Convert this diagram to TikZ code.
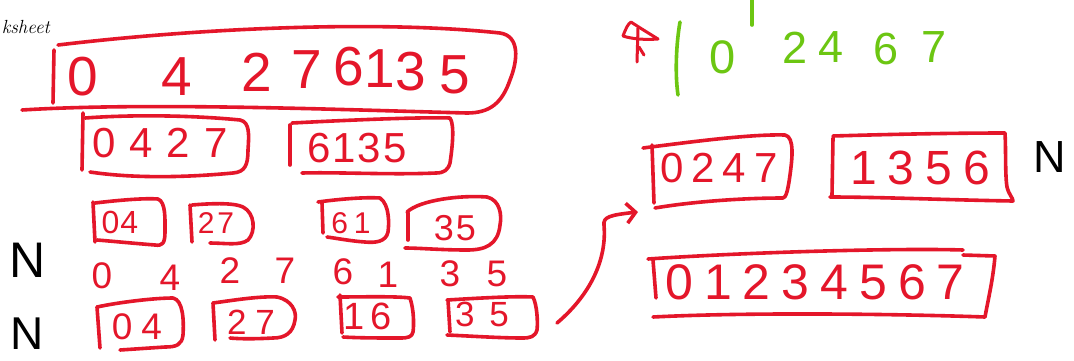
\documentclass[tikz,border=0pt]{standalone}
\usepackage{fontspec}
\newfontfamily\hand{Liberation Sans}
\usetikzlibrary{arrows.meta}
\definecolor{penred}{RGB}{228,22,42}
\definecolor{pengreen}{RGB}{108,198,18}
\begin{document}
\begin{tikzpicture}[x=1pt,y=-1pt,
  pen/.style={draw=penred, line width=3.6pt, line cap=round, line join=round},
  gpen/.style={draw=pengreen, line width=3.6pt, line cap=round, line join=round},
  dg/.style={inner sep=0pt, text=penred, font=\hand\fontsize{#1}{#1}\selectfont},
  dg/.default=40,
  gd/.style={inner sep=0pt, text=pengreen, font=\hand\fontsize{#1}{#1}\selectfont},
  nn/.style={inner sep=0pt, text=black, font=\hand\fontsize{#1}{#1}\selectfont}]
\fill[white] (0,0) rectangle (1074,360);
\useasboundingbox (0,0) rectangle (1074,360);

% cut-off title
\node[anchor=base east, inner sep=0pt, font=\itshape\fontsize{19}{19}\selectfont] (ws) at (50,33) {ksheet};

% ---------- top row ----------
\node[dg=55] (t0) at (83,77) {0};
\node[dg=55] (t1) at (177,77) {4};
\node[dg=55] (t2) at (257,72) {2};
\node[dg=55] (t3) at (307,70) {7};
\node[dg=55] (t4) at (349,67) {6};
\node[dg=55] (t5) at (380,69) {1};
\node[dg=55] (t6) at (411,72) {3};
\node[dg=55] (t7) at (455,75) {5};
\draw[pen] (54,50) -- (53,103);
\draw[pen] (58,45) .. controls (200,28) and (380,20) .. (500,33)
  .. controls (520,36) and (518,60) .. (510,80)
  .. controls (502,103) and (490,113) .. (467,113)
  .. controls (350,110) and (150,102) .. (22,110);

% ---------- second row ----------
\node[dg=42] (r2a) at (160,143) {0\kern14pt{}4\kern14pt{}2\kern14pt{}7};
\draw[pen] (83,113) -- (82,170);
\draw[pen] (85,118) .. controls (140,114) and (200,116) .. (240,120)
  .. controls (250,122) and (249,135) .. (248,150)
  .. controls (248,165) and (245,172) .. (233,173)
  .. controls (180,178) and (130,178) .. (90,172);
\node[dg=42] (r2b) at (357,148) {6\kern2pt{}1\kern2pt{}3\kern2pt{}5};
\draw[pen] (290,125) -- (290,165);
\draw[pen] (292,123) .. controls (350,120) and (420,117) .. (450,118)
  .. controls (455,125) and (452,150) .. (450,163)
  .. controls (448,170) and (444,173) .. (436,173)
  .. controls (390,175) and (340,172) .. (302,173);

% ---------- third row ----------
\node[dg=32] (r3a) at (120,222) {0\kern1pt{}4};
\draw[pen] (93,202) -- (95,242);
\draw[pen] (95,203) .. controls (120,200) and (145,198) .. (158,199)
  .. controls (166,202) and (165,220) .. (165,232)
  .. controls (165,244) and (162,246) .. (155,245)
  .. controls (130,243) and (110,241) .. (97,240);
\node[dg=30] (r3b) at (216,223) {2\kern3pt{}7};
\draw[pen] (190,205) -- (192,242);
\draw[pen] (192,205) .. controls (215,203) and (235,203) .. (243,207)
  .. controls (255,213) and (256,232) .. (248,240)
  .. controls (240,246) and (225,243) .. (210,243);
\node[dg=30] (r3c) at (351,223) {6\kern6pt{}1};
\draw[pen] (322,203) -- (323,233);
\draw[pen] (318,202) .. controls (340,199) and (365,197) .. (380,198)
  .. controls (390,205) and (389,225) .. (388,232)
  .. controls (386,242) and (375,243) .. (365,242)
  .. controls (350,241) and (335,238) .. (327,237);
\node[dg=36] (r3d) at (455,228) {3\kern2pt{}5};
\draw[pen] (408,213) -- (408,240);
\draw[pen] (407,212) .. controls (420,200) and (460,195) .. (487,197)
  .. controls (500,200) and (502,215) .. (500,225)
  .. controls (498,245) and (485,250) .. (467,250)
  .. controls (440,250) and (420,248) .. (405,248);

% ---------- fourth row ----------
\node[nn=50] (n1) at (28,260) {N};
\node[dg=37] (f0) at (102,276) {0};
\node[dg=37] (f1) at (170,278) {4};
\node[dg=37] (f2) at (230,271) {2};
\node[dg=37] (f3) at (285,271) {7};
\node[dg=37] (f4) at (343,272) {6};
\node[dg=37] (f5) at (388,275) {1};
\node[dg=37] (f6) at (450,274) {3};
\node[dg=37] (f7) at (497,274) {5};

% ---------- fifth row ----------
\node[nn=46] (n2) at (27,334) {N};
\node[dg=37] (r5a) at (137,327) {0\kern9pt{}4};
\draw[pen] (97,307) -- (100,348);
\draw[pen] (97,307) .. controls (120,302) and (155,298) .. (173,298)
  .. controls (183,300) and (184,320) .. (183,335)
  .. controls (182,345) and (176,347) .. (165,347)
  .. controls (150,348) and (135,349) .. (120,350);
\node[dg=35] (r5b) at (251,322) {2\kern9pt{}7};
\draw[pen] (213,303) -- (215,340);
\draw[pen] (213,303) .. controls (235,300) and (260,296) .. (277,297)
  .. controls (292,300) and (297,312) .. (295,320)
  .. controls (293,333) and (285,338) .. (273,338)
  .. controls (255,339) and (240,339) .. (230,338);
\node[dg=38] (r5c) at (368,316) {1\kern6pt{}6};
\draw[pen] (340,295) -- (342,333);
\draw[pen] (338,297) .. controls (360,297) and (395,296) .. (410,298)
  .. controls (414,310) and (414,325) .. (413,332)
  .. controls (412,337) and (408,338) .. (400,338)
  .. controls (380,338) and (360,338) .. (343,337);
\node[dg=35] (r5d) at (482,314) {3\kern15pt{}5};
\draw[pen] (448,300) -- (450,332);
\draw[pen] (447,300) .. controls (480,298) and (515,296) .. (533,297)
  .. controls (537,305) and (538,322) .. (537,330)
  .. controls (535,337) and (530,338) .. (522,338)
  .. controls (500,338) and (470,336) .. (447,335);

% ---------- arrow ----------
\coordinate (arrS) at (557,323);
\coordinate (arrE) at (638,212);
\draw[pen, -{Straight Barb[length=9pt,width=20pt]}] (arrS)
  .. controls (590,295) and (607,260) .. (604,225)
  .. controls (603,217) and (610,215) .. (arrE);

% ---------- scribble mark ----------
\draw[pen, line width=3pt] (623,36) .. controls (626,28) and (628,24) .. (631,22)
  .. controls (640,28) and (650,34) .. (658,39)
  .. controls (645,40) and (632,39) .. (623,36);
\draw[pen, line width=3pt] (638,28) -- (637,62);
\draw[pen, line width=3pt] (639,47) -- (644,55);

% ---------- green result ----------
\draw[gpen] (680,22) .. controls (676,45) and (675,75) .. (678,95);
\draw[gpen] (752,0) -- (752,25);
\node[gd=47] (g0) at (723,57) {0};
\node[gd=45] (g2) at (795,48) {2};
\node[gd=45] (g4) at (831,47) {4};
\node[gd=45] (g6) at (886,49) {6};
\node[gd=45] (g7) at (934,47) {7};

% ---------- right boxes ----------
\node[dg=42] (m1) at (719,168) {0\kern8pt{}2\kern8pt{}4\kern8pt{}7};
\draw[pen] (652,145) -- (654,203);
\draw[pen] (643,148) .. controls (690,142) and (750,134) .. (785,135)
  .. controls (795,137) and (792,160) .. (790,175)
  .. controls (788,190) and (786,198) .. (783,198)
  .. controls (740,198) and (690,202) .. (655,208);
\node[dg=48] (m2) at (920,168) {1\kern11pt{}3\kern11pt{}5\kern11pt{}6};
\draw[pen] (833,138) -- (832,195);
\draw[pen] (833,136) .. controls (900,134) and (960,133) .. (1005,133)
  .. controls (1006,150) and (1005,175) .. (1007,187)
  .. controls (1009,195) and (1013,198) .. (1013,201)
  .. controls (950,200) and (880,197) .. (830,197);
\node[nn=45] (n3) at (1050,157) {N};

\node[dg=50] (fin) at (815,282) {0\kern11pt{}1\kern11pt{}2\kern11pt{}3\kern11pt{}4\kern11pt{}5\kern11pt{}6\kern11pt{}7};
\draw[pen] (653,260) -- (656,298);
\draw[pen] (648,259) .. controls (750,252) and (900,248) .. (963,250);
\draw[pen] (963,255) -- (995,256) .. controls (993,280) and (988,300) .. (985,317)
  .. controls (900,314) and (750,312) .. (653,317);
\end{tikzpicture}
\end{document}
